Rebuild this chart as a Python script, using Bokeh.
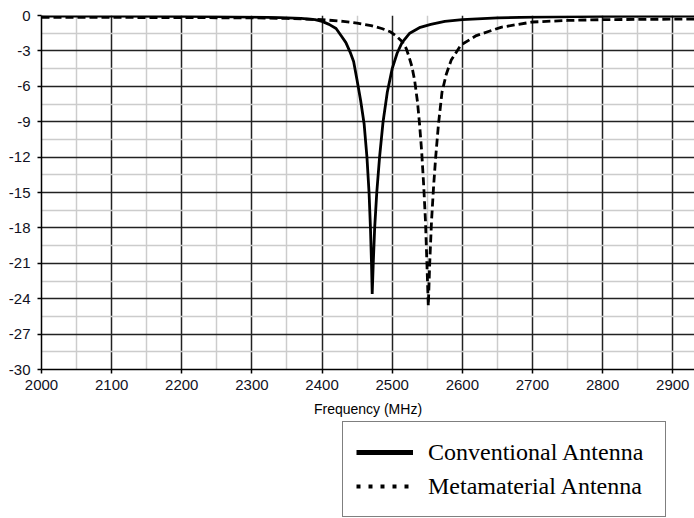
from bokeh.plotting import figure
from bokeh.layouts import column
from bokeh.models import (ColumnDataSource, FixedTicker, Range1d, Legend, LegendItem)
from bokeh.embed import file_html
from bokeh.resources import INLINE

# ---- data ----
conv_freq = [2000, 2100, 2200, 2250, 2300, 2340, 2370, 2390, 2400, 2410, 2420, 2427,
             2434, 2440, 2445, 2450, 2455, 2460, 2464, 2467, 2469, 2470.5, 2471.5,
             2473, 2475, 2478, 2482, 2487, 2493, 2500, 2507, 2514, 2525, 2540, 2555,
             2575, 2600, 2650, 2700, 2800, 2931]
conv_s11 = [-0.05, -0.06, -0.08, -0.1, -0.13, -0.18, -0.25, -0.35, -0.5, -0.75, -1.1, -1.7,
            -2.3, -3.1, -3.9, -5.5, -7.2, -9.2, -12.0, -15.0, -18.0, -21.0, -23.6,
            -21.0, -18.0, -15.0, -12.0, -9.0, -6.5, -4.5, -3.2, -2.3, -1.5, -1.0, -0.75,
            -0.5, -0.35, -0.2, -0.14, -0.08, -0.05]

meta_freq = [2000, 2100, 2200, 2300, 2350, 2400, 2430, 2450, 2470, 2485, 2498, 2507,
             2514, 2520, 2524, 2528, 2532, 2536, 2539, 2542, 2545, 2547.5, 2549.5,
             2551.5, 2553.5, 2556, 2559, 2562, 2566, 2571, 2577, 2584, 2598, 2620,
             2655, 2700, 2750, 2800, 2931]
meta_s11 = [-0.15, -0.16, -0.18, -0.2, -0.25, -0.35, -0.5, -0.65, -0.85, -1.1, -1.4, -1.8,
            -2.2, -2.8, -3.5, -4.3, -5.5, -7.3, -9.2, -11.5, -14.5, -17.5, -21.0,
            -24.6, -21.0, -17.5, -14.5, -12.0, -9.2, -6.5, -5.0, -3.8, -2.5, -1.7,
            -1.0, -0.55, -0.42, -0.35, -0.3]

x_major = [2000, 2100, 2200, 2300, 2400, 2500, 2600, 2700, 2800, 2900]
x_minor = [2050, 2150, 2250, 2350, 2450, 2550, 2650, 2750, 2850]
y_major = [0, -3, -6, -9, -12, -15, -18, -21, -24, -27, -30]
y_labels = ["0", "-3", "-6", "-9", "-12", "-15", "-18", "-21", "-24", "-27", "-30"]
y_minor = [-1.5, -4.5, -7.5, -10.5, -13.5, -16.5, -19.5, -22.5, -25.5, -28.5]

labels = ["Conventional Antenna", "Metamaterial Antenna"]

p = figure(width=694, height=421, output_backend="svg", toolbar_location=None,
           x_range=Range1d(2000, 2931), y_range=Range1d(-30, 0),
           min_border_left=41, min_border_top=15, min_border_right=0,
           min_border_bottom=52)
p.outline_line_color = None
p.background_fill_color = "white"

# axes
p.xaxis.ticker = FixedTicker(ticks=x_major, minor_ticks=x_minor)
p.yaxis.ticker = FixedTicker(ticks=y_major, minor_ticks=y_minor)
p.yaxis.major_label_overrides = {t: s for t, s in zip(y_major, y_labels)}
for ax in (p.xaxis, p.yaxis):
    ax.axis_line_color = "black"
    ax.axis_line_width = 1.5
    ax.major_tick_line_color = "black"
    ax.major_tick_line_width = 1.5
    ax.major_tick_out = 4
    ax.major_tick_in = 0
    ax.minor_tick_line_color = None
    ax.major_label_text_font = "Liberation Sans"
    ax.major_label_text_font_size = "15px"
    ax.major_label_text_color = "#111122"
p.yaxis.major_label_standoff = 7
p.xaxis.major_label_standoff = 6
p.xaxis.axis_label = "Frequency (MHz)"
p.xaxis.axis_label_text_font = "Liberation Sans"
p.xaxis.axis_label_text_font_style = "normal"
p.xaxis.axis_label_text_font_size = "14px"
p.xaxis.axis_label_text_color = "black"
p.xaxis.axis_label_standoff = 8

# grids
for g in (p.xgrid, p.ygrid):
    g.grid_line_color = "#222222"
    g.grid_line_width = 1.5
    g.grid_line_alpha = 1.0
    g.minor_grid_line_color = "#cccccc"
    g.minor_grid_line_width = 1.5

src_c = ColumnDataSource(dict(f=conv_freq, s=conv_s11))
src_m = ColumnDataSource(dict(f=meta_freq, s=meta_s11))
p.line("f", "s", source=src_c, line_color="black", line_width=2.8)
p.line("f", "s", source=src_m, line_color="black", line_width=2.8, line_dash="8 4")

# ---- legend panel below the chart (its ranges keep the curves out of view) ----
q = figure(width=694, height=97, output_backend="svg", toolbar_location=None,
           x_range=Range1d(0, 1), y_range=Range1d(0, 1),
           min_border=0, x_axis_location=None, y_axis_location=None)
q.outline_line_color = None
q.xgrid.visible = False
q.ygrid.visible = False
lg_c = q.line("f", "s", source=src_c, line_color="black", line_width=5)
lg_m = q.line("f", "s", source=src_m, line_color="black", line_width=4, line_dash="4 8")

legend = Legend(items=[LegendItem(label=labels[0], renderers=[lg_c]),
                       LegendItem(label=labels[1], renderers=[lg_m])],
                location=(301, 1))
legend.label_text_font = "Liberation Serif"
legend.label_text_font_size = "24px"
legend.label_text_color = "black"
legend.padding = 13
legend.spacing = 0
legend.margin = 0
legend.glyph_width = 57
legend.glyph_height = 34
legend.label_height = 34
legend.label_width = 224
legend.label_standoff = 15
legend.border_line_color = "black"
legend.border_line_width = 1.5
legend.background_fill_alpha = 1.0
q.add_layout(legend, "center")

layout = column(p, q, spacing=0)
open("out.html", "w").write(file_html(layout, INLINE))
